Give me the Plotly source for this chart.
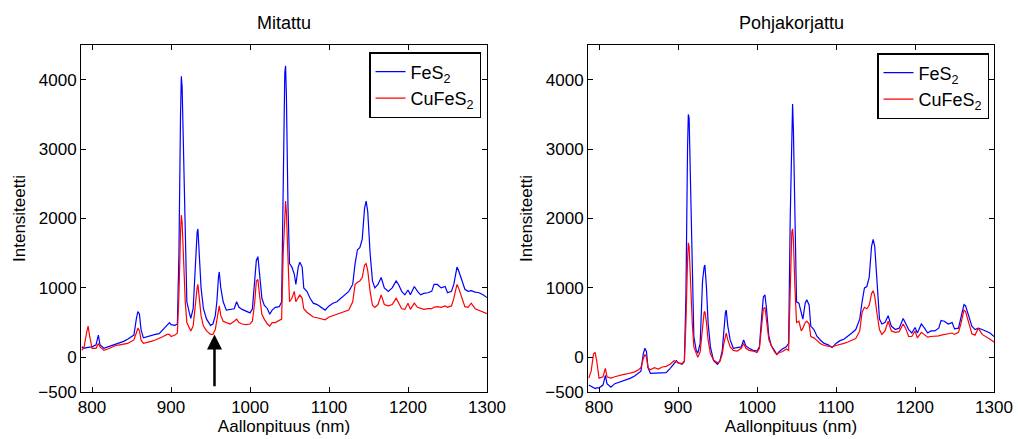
import plotly.graph_objects as go

# Wavelength grid (nm)
wavelength = [787, 790, 793, 795, 797, 800, 805, 808, 810, 815, 820, 825, 830, 835, 840, 845,
              850, 853, 856, 858, 860, 862, 865, 870, 875, 880, 885, 890, 895, 898, 900, 905,
              908, 910, 912, 913, 914, 916, 918, 920, 923, 925, 928, 931, 933, 934, 936, 938,
              941, 945, 950, 953, 956, 958, 960, 961, 963, 966, 970, 975, 980, 983, 986, 990,
              995, 1000, 1003, 1006, 1008, 1010, 1012, 1015, 1018, 1022, 1025, 1028, 1032, 1037,
              1040, 1042, 1044, 1045, 1046, 1048, 1050, 1053, 1056, 1058, 1061, 1063, 1066, 1068,
              1072, 1076, 1080, 1085, 1090, 1095, 1100, 1105, 1110, 1115, 1120, 1125, 1130, 1133,
              1136, 1139, 1142, 1145, 1147, 1149, 1152, 1155, 1158, 1162, 1166, 1170, 1175, 1180,
              1185, 1188, 1192, 1196, 1200, 1203, 1208, 1212, 1216, 1220, 1225, 1230, 1233, 1237,
              1242, 1247, 1250, 1255, 1258, 1262, 1264, 1268, 1272, 1276, 1280, 1285, 1290, 1295,
              1300]

# Measured spectra
fes2_measured = [150, 130, 140, 140, 150, 150, 180, 320, 180, 130, 150, 170, 180, 200, 230, 260,
                 300, 320, 550, 660, 620, 400, 280, 300, 320, 330, 340, 400, 450, 500, 470, 460,
                 480, 1500, 3500, 4050, 3900, 2800, 1500, 800, 650, 560, 700, 1500, 1800, 1850, 1500, 1000,
                 700, 550, 460, 480, 600, 800, 1150, 1230, 1000, 800, 680, 690, 700, 800, 720, 690,
                 660, 640, 700, 1100, 1400, 1450, 1200, 850, 750, 700, 620, 680, 720, 730,
                 800, 2500, 4100, 4200, 3800, 2200, 1350, 1300, 1200, 1050, 1300, 1370, 1300, 1000,
                 950, 850, 780, 760, 720, 680, 740, 780, 800, 850, 900, 950, 1050, 1350,
                 1550, 1580, 1700, 2150, 2250, 2100, 1500, 1100, 1000, 1050, 1150, 1000, 950, 1000,
                 1100, 1050, 950, 900, 970, 900, 1020, 950, 900, 920, 930, 950, 1050, 1050,
                 1000, 1020, 930, 950, 1050, 1300, 1250, 1100, 980, 950, 960, 940, 930, 900,
                 860]

cufes2_measured = [100, 150, 350, 450, 300, 130, 130, 200, 150, 100, 120, 150, 170, 180, 190, 200,
                   230, 250, 350, 420, 380, 250, 200, 210, 230, 250, 270, 300, 330, 330, 300, 320,
                   350, 900, 1800, 2050, 1950, 1300, 800, 500, 420, 380, 450, 850, 1000, 1050, 850, 600,
                   450, 380, 330, 330, 400, 550, 720, 740, 600, 520, 500, 480, 520, 550, 500, 480,
                   470, 480, 520, 800, 1100, 1120, 900, 620, 550, 480, 450, 500, 500, 530,
                   550, 1500, 2200, 2250, 2100, 1300, 800, 850, 950, 800, 850, 900, 850, 700,
                   650, 620, 580, 570, 560, 540, 580, 600, 620, 640, 660, 680, 800, 1050,
                   1080, 1100, 1150, 1330, 1350, 1250, 950, 750, 720, 760, 900, 760, 740, 760,
                   850, 780, 700, 690, 780, 690, 780, 720, 700, 690, 700, 700, 720, 730,
                   720, 740, 720, 740, 850, 1050, 1000, 850, 730, 720, 780, 700, 680, 650,
                   630]

# Baseline-corrected spectra
fes2_corrected = [-400, -420, -430, -450, -440, -440, -400, -260, -380, -430, -380, -360, -350, -330, -300, -270,
                  -230, -200, 50, 130, 80, -150, -230, -230, -220, -230, -220, -160, -80, -50, -80, -100,
                  -60, 900, 3000, 3500, 3450, 2400, 1100, 300, 100, 60, 200, 1100, 1300, 1330, 1000, 500,
                  150, -50, -100, -50, 100, 400, 650, 680, 450, 250, 130, 140, 150, 250, 160, 130,
                  100, 90, 150, 600, 870, 900, 700, 300, 170, 100, 40, 80, 120, 150,
                  200, 2000, 3600, 3650, 3300, 1800, 800, 780, 650, 550, 780, 830, 750, 450,
                  400, 300, 250, 200, 180, 140, 200, 240, 260, 300, 350, 400, 550, 800,
                  1000, 1020, 1150, 1600, 1700, 1600, 1000, 550, 480, 500, 600, 450, 400, 420,
                  560, 500, 400, 350, 430, 350, 480, 420, 350, 380, 380, 420, 530, 520,
                  480, 500, 410, 420, 550, 760, 740, 580, 450, 400, 420, 400, 380, 350,
                  300]

cufes2_corrected = [-300, -200, 50, 70, -50, -300, -280, -160, -280, -300, -280, -260, -250, -240, -230, -210,
                    -180, -150, -20, 40, 0, -150, -180, -150, -170, -140, -130, -100, -50, -60, -80, -90,
                    -60, 500, 1400, 1650, 1600, 1000, 500, 150, 50, 0, 80, 500, 650, 660, 500, 250,
                    50, -40, -80, -60, 50, 200, 330, 350, 250, 150, 100, 90, 130, 200, 130, 100,
                    90, 70, 130, 450, 700, 720, 550, 250, 170, 80, 40, 70, 80, 120,
                    100, 1100, 1800, 1850, 1700, 1000, 500, 520, 380, 420, 500, 520, 480, 300,
                    280, 240, 200, 170, 160, 150, 170, 180, 200, 220, 240, 270, 380, 650,
                    720, 700, 750, 920, 960, 880, 620, 400, 330, 380, 520, 380, 360, 370,
                    480, 420, 300, 300, 380, 280, 360, 320, 290, 300, 300, 310, 320, 330,
                    340, 350, 330, 360, 480, 680, 660, 480, 340, 320, 420, 330, 300, 260,
                    220]

x_ticks = [800, 900, 1000, 1100, 1200, 1300]
y_ticks = [-500, 0, 1000, 2000, 3000, 4000]
panel_titles = ["Mitattu", "Pohjakorjattu"]
x_label = "Aallonpituus (nm)"
y_label = "Intensiteetti"
names = ["FeS<sub>2</sub>", "CuFeS<sub>2</sub>"]

BLUE = "#0000ff"
RED = "#ff0000"
FONT = "Liberation Sans, Arial, Helvetica, sans-serif"

fig = go.Figure()

fig.add_trace(go.Scatter(x=wavelength, y=fes2_measured, mode="lines", name=names[0],
                         line=dict(color=BLUE, width=1.2), xaxis="x", yaxis="y", legend="legend"))
fig.add_trace(go.Scatter(x=wavelength, y=cufes2_measured, mode="lines", name=names[1],
                         line=dict(color=RED, width=1.2), xaxis="x", yaxis="y", legend="legend"))
fig.add_trace(go.Scatter(x=wavelength, y=fes2_corrected, mode="lines", name=names[0],
                         line=dict(color=BLUE, width=1.2), xaxis="x2", yaxis="y2", legend="legend2"))
fig.add_trace(go.Scatter(x=wavelength, y=cufes2_corrected, mode="lines", name=names[1],
                         line=dict(color=RED, width=1.2), xaxis="x2", yaxis="y2", legend="legend2"))

W, H = 1018, 439
# Plot area spans x 81..994 px, y 45..392 px
ML, MR, MT, MB = 81, W - 994, 45, H - 392
PW = W - ML - MR


def frac(px):
    return (px - ML) / PW


def xaxis(domain, anchor):
    return dict(domain=domain, anchor=anchor, range=[786, 1300], tickvals=x_ticks,
                showline=True, linecolor="black", linewidth=1, mirror="ticks",
                ticks="inside", ticklen=5, tickcolor="black", showgrid=False, zeroline=False,
                automargin=False,
                tickfont=dict(size=17, color="black"),
                title=dict(text=x_label, font=dict(size=17, color="black"), standoff=1))


def yaxis(anchor):
    return dict(domain=[0, 1], anchor=anchor, range=[-500, 4500], tickvals=y_ticks,
                showline=True, linecolor="black", linewidth=1, mirror="ticks",
                ticks="inside", ticklen=5, tickcolor="black", showgrid=False, zeroline=False,
                automargin=False,
                tickfont=dict(size=17, color="black"),
                title=dict(text=y_label, font=dict(size=17, color="black"), standoff=8))


legend_style = dict(bgcolor="white", bordercolor="black", borderwidth=1.5,
                    font=dict(size=18, color="black", family=FONT),
                    xanchor="right", yanchor="top", tracegroupgap=0, itemwidth=30,
                    xref="paper", yref="paper")

fig.update_layout(
    width=W, height=H,
    margin=dict(l=ML, r=MR, t=MT, b=MB, autoexpand=False),
    paper_bgcolor="white", plot_bgcolor="white",
    font=dict(family=FONT, color="black"),
    showlegend=True,
    xaxis=xaxis([0, frac(487)], "y"),
    yaxis=yaxis("x"),
    xaxis2=xaxis([frac(588), 1], "y2"),
    yaxis2=yaxis("x2"),
    legend=dict(x=frac(481), y=1 - (52 - MT) / (H - MT - MB), **legend_style),
    legend2=dict(x=frac(989), y=1 - (53 - MT) / (H - MT - MB), **legend_style),
)

# Panel titles
for title, xc in zip(panel_titles, [(81 + 487) / 2, (588 + 994) / 2]):
    fig.add_annotation(text=title, x=frac(xc), y=1 + (MT - 23) / (H - MT - MB),
                       xref="paper", yref="paper",
                       showarrow=False, font=dict(size=18, color="black"),
                       xanchor="center", yanchor="middle")

# Arrow marking the feature near 955 nm in the measured spectra
fig.add_annotation(x=955, y=330, ax=955, ay=-440, xref="x", yref="y", axref="x", ayref="y",
                   showarrow=True, arrowhead=2, arrowsize=1.2, arrowwidth=2.5,
                   arrowcolor="black", text="")

fig.write_html("out.html")
